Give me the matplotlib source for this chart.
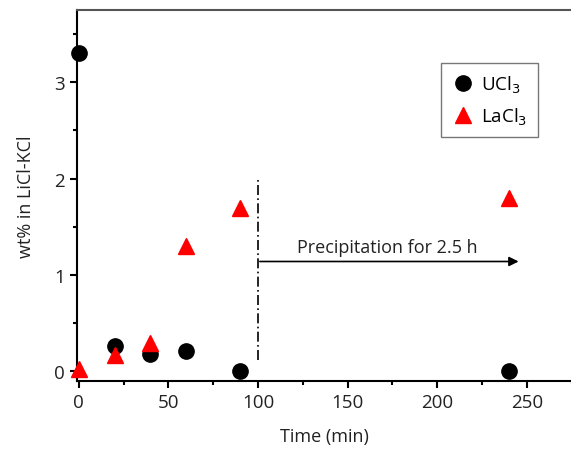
import matplotlib.pyplot as plt

plt.rcParams['font.family'] = ['Open Sans', 'DejaVu Sans']

# Data
time_min = [0, 20, 40, 60, 90, 240]
ucl3_wt = [3.3, 0.26, 0.18, 0.21, 0.0, 0.0]
lacl3_wt = [0.02, 0.17, 0.29, 1.3, 1.7, 1.8]

x_ticks = [0, 50, 100, 150, 200, 250]
y_ticks = [0, 1, 2, 3]

fig = plt.figure(figsize=(5.71, 4.52), dpi=100)
ax = fig.add_axes([0.1349, 0.1549, 0.866, 0.8208])

ax.plot(time_min, ucl3_wt, 'o', color='black', markersize=11, label='UCl$_3$', clip_on=False, zorder=3)
ax.plot(time_min, lacl3_wt, '^', color='red', markersize=12, label='LaCl$_3$', clip_on=False, zorder=3)

# precipitation marker line and arrow
ax.plot([100, 100], [0.12, 2.02], color='black', lw=1.2, linestyle=(0, (6, 2, 1, 2)))
ax.annotate('', xy=(247, 1.14), xytext=(99.5, 1.14),
            arrowprops=dict(arrowstyle='-|>', color='black', lw=1.2, mutation_scale=14))
ax.text(172, 1.2, 'Precipitation for 2.5 h', ha='center', va='bottom', fontsize=13, color='#222222')

ax.set_xlim(-1, 275)
ax.set_ylim(-0.1, 3.75)
ax.set_xticks(x_ticks)
ax.set_yticks(y_ticks)
ax.set_xticks(range(25, 300, 50), minor=True)
ax.set_yticks([0.5, 1.5, 2.5, 3.5], minor=True)
ax.tick_params(direction='out', length=5, width=1.5, labelsize=13.5, colors='black', labelcolor='#222222')
ax.tick_params(which='minor', direction='out', length=3, width=1.5)
for s in ax.spines.values():
    s.set_linewidth(1.5)
ax.spines['top'].set_color('#555555')
ax.spines['right'].set_visible(False)

ax.set_xlabel('Time (min)', fontsize=13, color='#222222', labelpad=12)
ax.set_ylabel('wt% in LiCl-KCl', fontsize=13, color='#222222', labelpad=14)

leg = ax.legend(loc='upper left', bbox_to_anchor=(0.736, 0.856), fontsize=13.5, frameon=True,
                fancybox=False, edgecolor='#555555', handletextpad=0.3, borderpad=0.55,
                labelspacing=0.55, handlelength=1.3, borderaxespad=0)
leg.get_frame().set_linewidth(1.0)

fig.savefig('out.png', dpi=100)
